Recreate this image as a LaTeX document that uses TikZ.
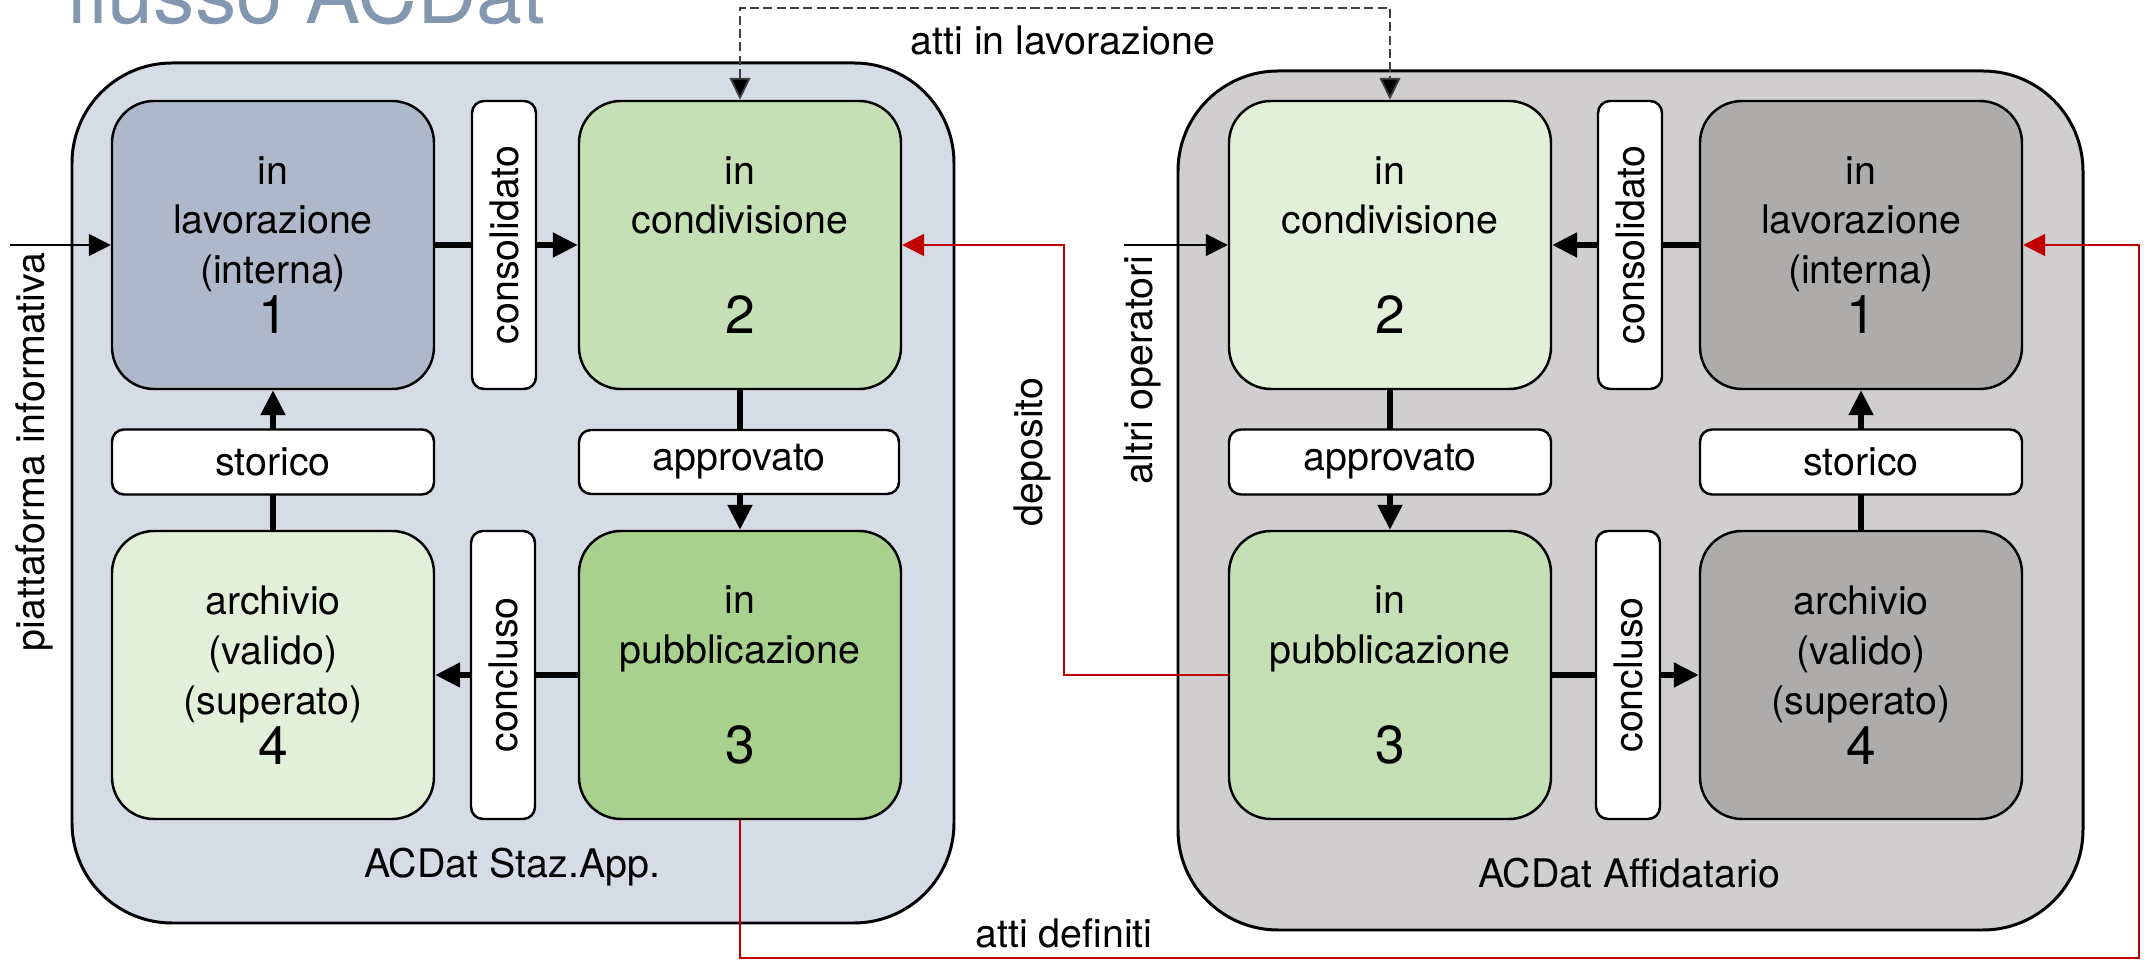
\documentclass[tikz,border=0pt]{standalone}
\usepackage{fontspec}
\setmainfont{TeX Gyre Heros}
\usetikzlibrary{arrows.meta}
\definecolor{titlegray}{HTML}{8497B0}
\definecolor{stazfill}{HTML}{D6DCE5}
\definecolor{affifill}{HTML}{D0CECE}
\definecolor{lavAfill}{HTML}{ADB9CA}
\definecolor{lavBfill}{HTML}{AEABAB}
\definecolor{greenpale}{HTML}{E2F0D9}
\definecolor{greenmid}{HTML}{C5E0B4}
\definecolor{greendark}{HTML}{A9D18E}
\definecolor{linkred}{HTML}{C00000}
\definecolor{dashgray}{HTML}{404040}
\newcommand{\statnum}[1]{{\fontsize{15.2}{14.2}\selectfont #1}}
\tikzset{
  envbox/.style={
    draw=black,
    line width=0.85pt,
    rounded corners=1.0cm,
    inner sep=0pt
  },
  stagebox/.style={
    draw=black,
    line width=0.7pt,
    rounded corners=0.42cm,
    minimum width=3.22cm,
    minimum height=2.88cm,
    inner sep=0pt,
    align=center,
    font=\fontsize{11.2}{14.2}\selectfont
  },
  tagbox/.style={
    draw=black,
    fill=white,
    line width=0.7pt,
    rounded corners=0.12cm,
    inner sep=0pt,
    font=\fontsize{11.2}{14.2}\selectfont
  },
  sidelabel/.style={
    inner sep=0pt,
    font=\fontsize{11.2}{14.2}\selectfont
  },
  flowarrow/.style={
    draw=black,
    line width=1.5pt,
    -{Triangle[length=2.5mm,width=2.4mm]}
  },
  feedarrow/.style={
    draw=black,
    line width=0.45pt,
    -{Triangle[length=2.2mm,width=2.2mm]}
  },
  redlink/.style={
    draw=linkred,
    line width=0.6pt,
    -{Triangle[length=2.2mm,width=2.2mm]}
  },
  dashlink/.style={
    draw=dashgray,
    line width=0.5pt,
    dash pattern=on 2.6pt off 1.2pt,
    {Triangle[length=2.2mm,width=2.1mm,fill=black]}-{Triangle[length=2.2mm,width=2.1mm,fill=black]}
  }
}

\begin{document}
\begin{tikzpicture}[x=1cm,y=1cm]

  \useasboundingbox (0,0) rectangle (21.49,9.61);
  \clip (0,0) rectangle (21.49,9.61);

  % Slide title, cut off by the upper edge.
  \node[anchor=base west,inner sep=0pt,text=titlegray,
        font=\fontsize{23.5}{28}\selectfont] (title) at (0.66,9.37) {flusso ACDat};

  % The two common data environments.
  \node[envbox,fill=stazfill,minimum width=8.82cm,minimum height=8.60cm] (envA) at (5.13,4.68) {};
  \node[envbox,fill=affifill,minimum width=9.05cm,minimum height=8.59cm] (envB) at (16.305,4.605) {};
  \node[sidelabel] (envAname) at (5.12,0.94) {ACDat Staz.App.};
  \node[sidelabel] (envBname) at (16.29,0.88) {ACDat Affidatario};

  % States of the contracting authority (left).
  \node[stagebox,fill=lavAfill]  (lavA)  at (2.73,7.16) {in\\lavorazione\\(interna)\\\statnum{1}};
  \node[stagebox,fill=greenmid]  (condA) at (7.40,7.16) {in\\condivisione\\[0.5cm]\statnum{2}};
  \node[stagebox,fill=greendark] (pubA)  at (7.40,2.86) {in\\pubblicazione\\[0.5cm]\statnum{3}};
  \node[stagebox,fill=greenpale] (archA) at (2.73,2.86) {archivio\\(valido)\\(superato)\\\statnum{4}};

  % States of the contractor (right, mirrored).
  \node[stagebox,fill=greenpale] (condB) at (13.90,7.16) {in\\condivisione\\[0.5cm]\statnum{2}};
  \node[stagebox,fill=lavBfill]  (lavB)  at (18.61,7.16) {in\\lavorazione\\(interna)\\\statnum{1}};
  \node[stagebox,fill=greenmid]  (pubB)  at (13.90,2.86) {in\\pubblicazione\\[0.5cm]\statnum{3}};
  \node[stagebox,fill=lavBfill]  (archB) at (18.61,2.86) {archivio\\(valido)\\(superato)\\\statnum{4}};

  % Cycle inside each environment; the tags are drawn on top afterwards.
  \draw[flowarrow] (lavA.east)   -- (condA.west);
  \draw[flowarrow] (condA.south) -- (pubA.north);
  \draw[flowarrow] (pubA.west)   -- (archA.east);
  \draw[flowarrow] (archA.north) -- (lavA.south);

  \draw[flowarrow] (lavB.west)   -- (condB.east);
  \draw[flowarrow] (condB.south) -- (pubB.north);
  \draw[flowarrow] (pubB.east)   -- (archB.west);
  \draw[flowarrow] (archB.north) -- (lavB.south);

  \node[tagbox,rotate=90,minimum width=2.88cm,minimum height=0.64cm] (consA) at (5.04,7.16) {consolidato};
  \node[tagbox,rotate=90,minimum width=2.88cm,minimum height=0.64cm] (conclA) at (5.03,2.86) {concluso};
  \node[tagbox,minimum width=3.22cm,minimum height=0.65cm] (storA) at (2.73,4.99) {storico};
  \node[tagbox,minimum width=3.20cm,minimum height=0.64cm] (apprA) at (7.39,4.99) {approvato};

  \node[tagbox,rotate=90,minimum width=2.88cm,minimum height=0.64cm] (consB) at (16.30,7.16) {consolidato};
  \node[tagbox,rotate=90,minimum width=2.88cm,minimum height=0.64cm] (conclB) at (16.28,2.86) {concluso};
  \node[tagbox,minimum width=3.22cm,minimum height=0.65cm] (apprB) at (13.90,4.99) {approvato};
  \node[tagbox,minimum width=3.22cm,minimum height=0.65cm] (storB) at (18.61,4.99) {storico};

  % Inputs from outside.
  \coordinate (platform) at (0.10,7.16);
  \draw[feedarrow] (platform) -- (lavA.west);
  \node[sidelabel,rotate=90] (platformname) at (0.34,5.09) {piattaforma informativa};

  \coordinate (others) at (11.24,7.16);
  \draw[feedarrow] (others) -- (condB.west);
  \node[sidelabel,rotate=90] (othersname) at (11.42,5.91) {altri operatori};

  % Exchanges between the two environments.
  \coordinate (worktop) at (10.65,9.53);
  \draw[dashlink] (condA.north) |- (worktop) -| (condB.north);
  \node[sidelabel] (workname) at (10.63,9.21) {atti in lavorazione};

  \coordinate (depocorner) at (10.64,5.00);
  \draw[redlink] (pubB.west) -| (depocorner) |- (condA.east);
  \node[sidelabel,rotate=90] (deponame) at (10.32,5.09) {deposito};

  \coordinate (finalcorner) at (21.39,0.03);
  \draw[redlink] (pubA.south) |- (finalcorner) |- (lavB.east);
  \node[sidelabel] (finalname) at (10.64,0.28) {atti definiti};

\end{tikzpicture}
\end{document}
